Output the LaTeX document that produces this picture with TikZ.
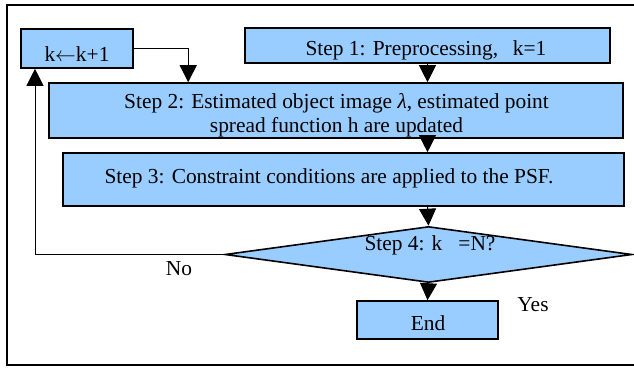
\documentclass[tikz,border=0pt]{standalone}
\usepackage{fontspec}
\setmainfont{Liberation Serif}
\usetikzlibrary{shapes.geometric,arrows.meta,calc}
\definecolor{boxblue}{HTML}{99CCFF}
\tikzset{
  stepbox/.style={draw=black, line width=1.6pt, fill=boxblue, rectangle, inner sep=0pt},
  decision/.style={draw=black, line width=1.6pt, fill=boxblue, diamond, inner sep=0pt, aspect=7.27},
  txt/.style={inner sep=0pt, anchor=base, font=\fontsize{21.4}{24}\selectfont},
  arr/.style={line width=1pt, -{Triangle[width=17pt,length=17pt]}},
}
\begin{document}
\begin{tikzpicture}[x=1pt, y=-1pt]
\useasboundingbox (0,0) rectangle (634,367);
% outer frame
\draw[line width=2pt] (7,5) rectangle (637,365);

% boxes
\node[stepbox, minimum width=112pt, minimum height=39pt] (kbox) at (77,48.5) {};
\node[stepbox, minimum width=365pt, minimum height=35pt] (s1) at (427.5,45.5) {};
\node[stepbox, minimum width=574pt, minimum height=55pt] (s2) at (336,110.5) {};
\node[stepbox, minimum width=561pt, minimum height=53pt] (s3) at (343.5,179.5) {};
\node[decision, minimum width=407pt, minimum height=56pt] (d) at (428.5,254.5) {};
\node[stepbox, minimum width=141pt, minimum height=38pt] (e) at (427.5,320) {};

% texts
\node[txt] (tk) at (77,61) {k$\leftarrow$k+1};
\node[txt] (t1) at (426,55) {Step 1: Preprocessing,\hspace{0.69em}k=1};
\node[txt] (t2a) at (336.5,108.5) {Step 2: Estimated object image \textit{λ}, estimated point};
\node[txt] (t2b) at (336.5,132) {spread function h are updated};
\node[txt] (t3) at (329,183) {Step 3: Constraint conditions are applied to the PSF.};
\node[txt] (t4) at (430,250) {Step 4: k\hspace{0.75em}=N?};
\node[txt] (te) at (428,330) {End};
\node[txt] (tyes) at (533,311.5) {Yes};
\node[txt] (tno) at (179,275) {No};

% connectors
\draw[arr] (s1.south) -- (s1.south |- s2.north);
\draw[arr] (s1.south |- s2.south) -- (s1.south |- s3.north);
\draw[arr] (s1.south |- s3.south) -- (d.north);
\draw[arr] (d.south) -- (e.north);
\coordinate (fb) at (35,254.5);
\draw[arr] (d.west) -- (fb) -- (fb |- kbox.south);
\draw[arr] (kbox.east) -| ($(s2.north west)+(140,0)$);
\end{tikzpicture}
\end{document}
